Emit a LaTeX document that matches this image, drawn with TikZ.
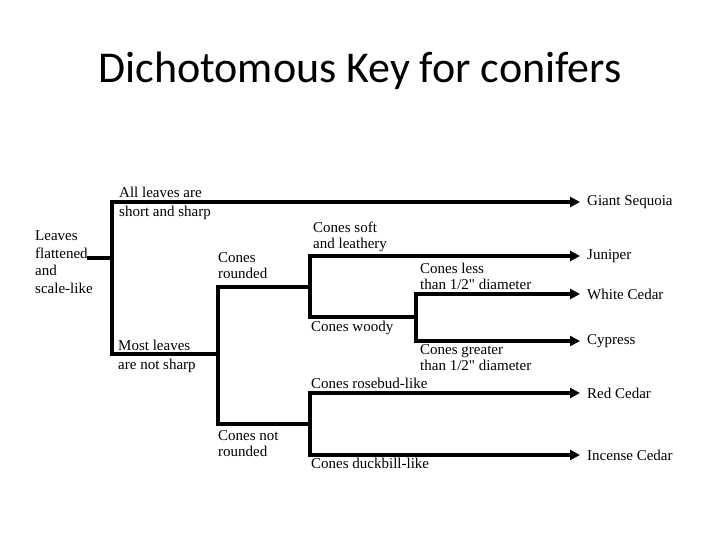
\documentclass[tikz,border=0pt]{standalone}
\usepackage{fontspec}
\setmainfont{Liberation Serif}[Ligatures=TeXOff]
\newfontfamily\titlefont{Carlito}
\usetikzlibrary{arrows.meta,positioning}

\begin{document}
\begin{tikzpicture}[
  x=1pt,y=-1pt,
  font=\fontsize{15}{16}\selectfont,
  keyline/.style={line width=3.2pt,line cap=rect},
  leadto/.style={keyline,-{Triangle[length=10pt,width=10pt]},shorten >=7pt},
  lab/.style={anchor=west,inner sep=0pt,align=left},
  taxon/.style={anchor=west,inner sep=0pt}
]
\useasboundingbox (0,0) rectangle (720,540);
\node[font=\titlefont\fontsize{44}{48}\selectfont,anchor=base] (title) at (360,83) {Dichotomous Key for conifers};

% species at the tips
\node[taxon] (sequoia) at (587,202) {Giant Sequoia};
\node[taxon] (juniper) at (587,256) {Juniper};
\node[taxon] (wcedar) at (587,294) {White Cedar};
\node[taxon] (cypress) at (587,341) {Cypress};
\node[taxon] (rcedar) at (587,393) {Red Cedar};
\node[taxon] (icedar) at (587,455) {Incense Cedar};

% branch points
\coordinate (stub) at (89,258);
\coordinate (k1) at (112,258);
\coordinate (k2) at (218,354);
\coordinate (k3) at (310,287);
\coordinate (k4) at (416,317);
\coordinate (k6) at (310,424);

% couplet texts
\node[lab,font=\fontsize{15}{17.5}\selectfont] (leaves) at (35,262) {Leaves\\flattened\\and\\scale-like};
\node[lab] (allsharp) at (119,192) {All leaves are};
\node[lab] (allsharp2) at (119,213) {short and sharp};
\node[lab] (most) at (118,345) {Most leaves};
\node[lab] (most2) at (118,366) {are not sharp};
\node[lab] (round) at (218,266) {Cones\\rounded};
\node[lab] (notround) at (218,444) {Cones not\\rounded};
\node[lab] (soft) at (313,237) {Cones soft\\and leathery};
\node[lab] (woody) at (311,328) {Cones woody};
\node[lab] (less) at (420,276) {Cones less\\than 1/2" diameter};
\node[lab] (greater) at (420,358) {Cones greater\\than 1/2" diameter};
\node[lab] (rosebud) at (311,383) {Cones rosebud-like};
\node[lab] (duckbill) at (311,463) {Cones duckbill-like};

% the key
\draw[keyline] (stub) -- (k1);
\draw[leadto] (k1) |- (sequoia.west);
\draw[keyline] (k1) |- (k2);
\draw[keyline] (k2) |- (k3);
\draw[keyline] (k2) |- (k6);
\draw[leadto] (k3) |- (juniper.west);
\draw[keyline] (k3) |- (k4);
\draw[leadto] (k4) |- (wcedar.west);
\draw[leadto] (k4) |- (cypress.west);
\draw[leadto] (k6) |- (rcedar.west);
\draw[leadto] (k6) |- (icedar.west);
\end{tikzpicture}
\end{document}
